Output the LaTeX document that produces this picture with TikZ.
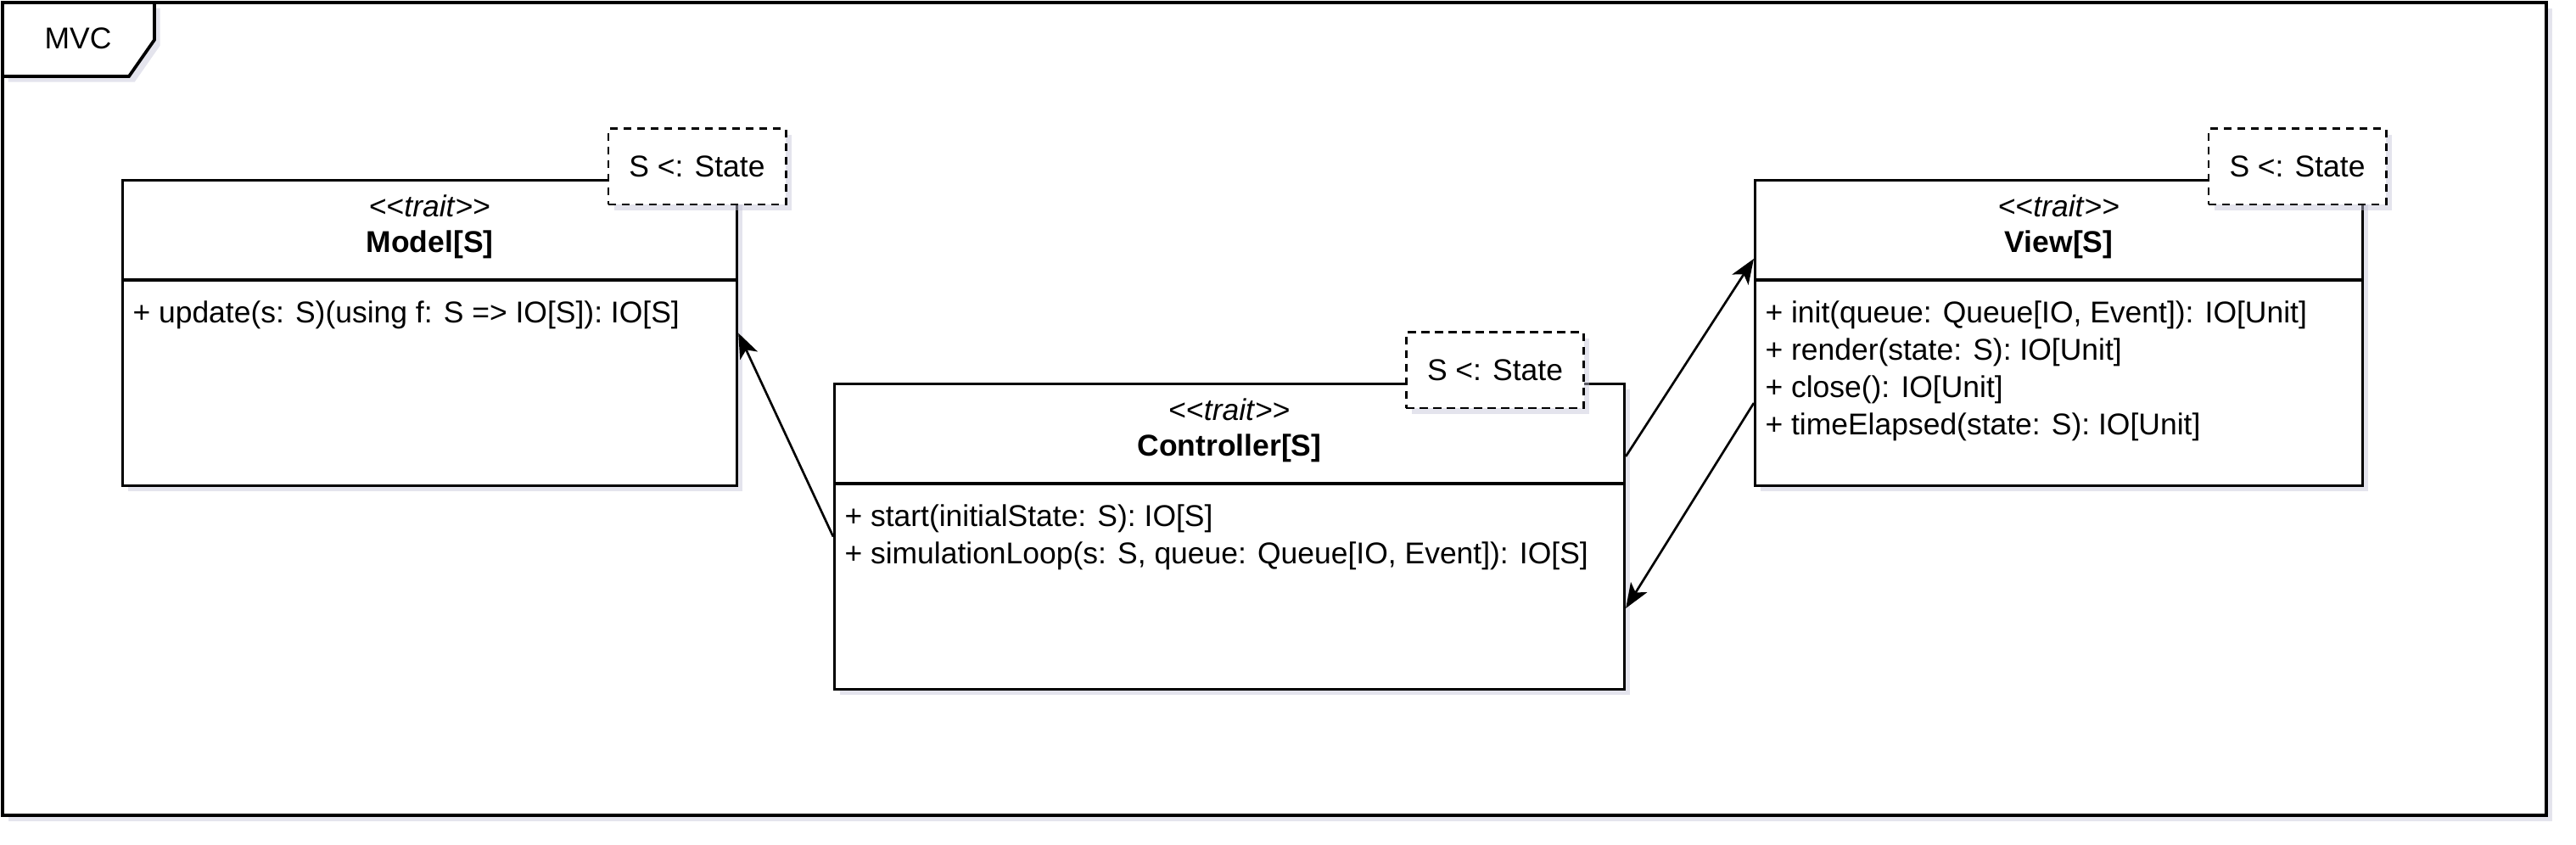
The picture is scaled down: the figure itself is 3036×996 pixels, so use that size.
\documentclass[tikz,border=0pt]{standalone}
\usepackage{fontspec}
\setmainfont{Liberation Sans}
\usetikzlibrary{arrows.meta,calc,shadows}

\definecolor{shadowgray}{RGB}{196,196,216}

\begin{document}
\begin{tikzpicture}[x=0.375pt,y=-0.375pt,font=\fontsize{13.3}{15}\selectfont,
  shade/.style={drop shadow={shadow xshift=2.5pt,shadow yshift=-2.5pt,fill=shadowgray,opacity=0.45}},
  classbox/.style={draw,line width=1.2pt,fill=white,shade,inner sep=0pt,anchor=north west,minimum height=135pt},
  parambox/.style={draw,line width=1.1pt,dash pattern=on 3.5pt off 2.5pt,fill=white,shade,inner sep=0pt,minimum width=78.4pt,minimum height=33.4pt},
  title/.style={anchor=base,inner sep=0pt},
  method/.style={anchor=base west,inner sep=0pt},
  link/.style={line width=1pt,-{Stealth[length=11pt,width=8.5pt,inset=2.8pt]}}]

\useasboundingbox (0,0) rectangle (3036,996);

% frame
\draw[line width=1.4pt,fill=white,shade] (3,3) rectangle (3001,961);
\draw[line width=1.4pt,fill=white,shade] (3,3) -- (182,3) -- (182,47) -- (152,90) -- (3,90) -- cycle;
\node[title] (frametitle) at (92,58) {MVC};

% classes
\node[classbox,minimum width=271.5pt] (model) at (143,211) {};
\node[classbox,minimum width=349.1pt] (controller) at (982,451) {};
\node[classbox,minimum width=268.5pt] (view) at (2067,211) {};

\foreach \c in {model,controller,view}
  \draw[line width=1.2pt] ($(\c.north west)+(0,119)$) -- ($(\c.north east)+(0,119)$);

\node[title] (modeltrait) at ($(model.north)+(0,45)$) {<{}<\textit{trait}>{}>};
\node[title] (modelname) at ($(model.north)+(0,87)$) {\textbf{Model[S]}};
\node[title] (controllertrait) at ($(controller.north)+(0,45)$) {<{}<\textit{trait}>{}>};
\node[title] (controllername) at ($(controller.north)+(0,87)$) {\textbf{Controller[S]}};
\node[title] (viewtrait) at ($(view.north)+(0,45)$) {<{}<\textit{trait}>{}>};
\node[title] (viewname) at ($(view.north)+(0,87)$) {\textbf{View[S]}};

% methods
\node[method] (modelm0) at ($(model.north west)+(13,170)$) {+ update(s: S)(using f: S => IO[S]): IO[S]};
\foreach \m [count=\i from 0] in {{+ start(initialState: S): IO[S]},
    {+ simulationLoop(s: S, queue: Queue[IO, Event]): IO[S]}}
  \node[method] (controllerm\i) at ($(controller.north west)+(13,170+44*\i)$) {\m};
\foreach \m [count=\i from 0] in {{+ init(queue: Queue[IO, Event]): IO[Unit]},
    {+ render(state: S): IO[Unit]}, {+ close(): IO[Unit]},
    {+ timeElapsed(state: S): IO[Unit]}}
  \node[method] (viewm\i) at ($(view.north west)+(13,170+44*\i)$) {\m};

% type parameters
\node[parambox] (modelparam) at (821.5,196.5) {S <: State};
\node[parambox] (controllerparam) at (1762,436.5) {S <: State};
\node[parambox] (viewparam) at (2707.5,196.5) {S <: State};

% connectors
\coordinate (ctrlout) at ($(controller.north east)+(0,87)$);
\coordinate (viewin) at ($(view.north west)+(0,94)$);
\coordinate (viewout) at ($(view.north west)+(0,264)$);
\coordinate (ctrlin) at ($(controller.north east)+(0,266)$);

\draw[link] (controller.west) -- (model.east);
\draw[link] (ctrlout) -- (viewin);
\draw[link] (viewout) -- (ctrlin);
\end{tikzpicture}
\end{document}
